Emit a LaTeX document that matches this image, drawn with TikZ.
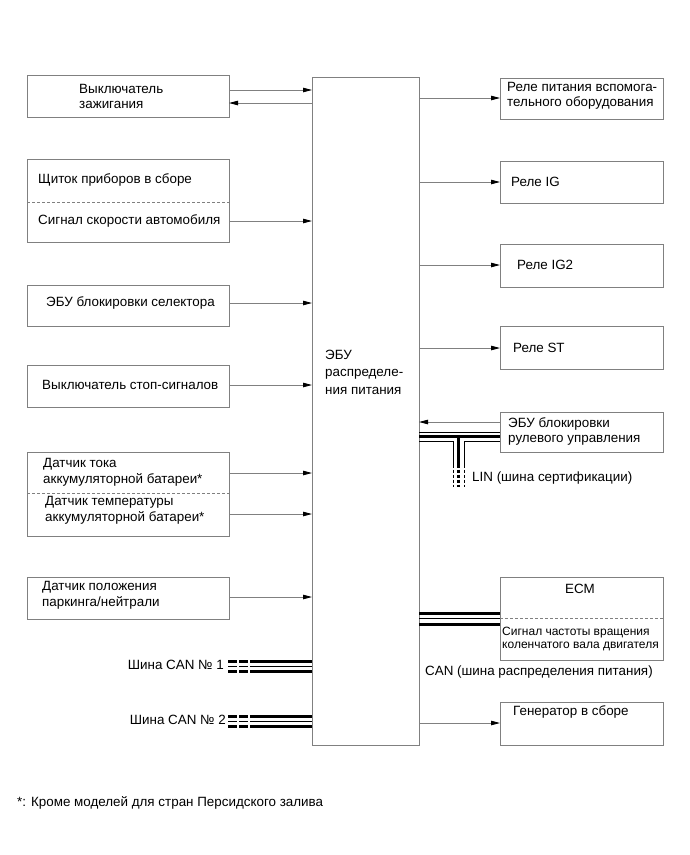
\documentclass[tikz,border=0pt]{standalone}
\usepackage{fontspec}
\setmainfont{Liberation Sans}
\usetikzlibrary{arrows.meta}
\definecolor{lg}{gray}{0.5}
\begin{document}
\begin{tikzpicture}[x=1pt,y=-1pt,
  box/.style={draw=lg, line width=0.9pt, rectangle, inner sep=0pt, outer sep=0pt, anchor=north west},
  txt/.style={anchor=west, inner sep=0pt, align=left, font=\fontsize{13.4}{16}\selectfont},
  smalltxt/.style={anchor=west, inner sep=0pt, align=left, font=\fontsize{12}{13.5}\selectfont},
  arr/.style={draw=lg, line width=0.9pt, -{Triangle[length=9pt,width=4.5pt,color=black]}},
  sep/.style={draw=lg, line width=0.6pt, dash pattern=on 3pt off 2pt},
  busA/.style={line width=3pt, black},
  busB/.style={line width=0.9pt, black},
  busAd/.style={line width=3pt, black, dash pattern=on 9pt off 2pt},
  busBd/.style={line width=0.9pt, black, dash pattern=on 9pt off 2pt},
  vbusA/.style={line width=3pt, black, dash pattern=on 3pt off 2pt},
  vbusB/.style={line width=0.9pt, black, dash pattern=on 3pt off 2pt}]
\useasboundingbox[fill=white] (0,0) rectangle (690,855);

% central ECU
\node[box, minimum width=107pt, minimum height=668pt] (ecu) at (312,77) {};
\node[txt, font=\fontsize{13.4}{17.5}\selectfont] (ecut) at (325,372) {ЭБУ\\распределе-\\ния питания};

% left boxes
\node[box, minimum width=202pt, minimum height=42pt] (b1) at (27,75) {};
\node[box, minimum width=202pt, minimum height=83pt] (b2) at (27,159) {};
\node[box, minimum width=202pt, minimum height=41pt] (b3) at (27,285) {};
\node[box, minimum width=202pt, minimum height=42pt] (b4) at (27,365) {};
\node[box, minimum width=202pt, minimum height=84pt] (b5) at (27,452) {};
\node[box, minimum width=202pt, minimum height=42pt] (b6) at (27,577) {};

\node[txt, font=\fontsize{13.4}{15}\selectfont] (t1) at (79,96) {Выключатель\\зажигания};
\node[txt] (t2a) at (38,180) {Щиток приборов в сборе};
\node[txt] (t2b) at (38,221) {Сигнал скорости автомобиля};
\node[txt] (t3) at (46,303) {ЭБУ блокировки селектора};
\node[txt] (t4) at (42,385) {Выключатель стоп-сигналов};
\node[txt] (t5a) at (43,472) {Датчик тока\\аккумуляторной батареи*};
\node[txt] (t5b) at (45,510) {Датчик температуры\\аккумуляторной батареи*};
\node[txt] (t6) at (42,595) {Датчик положения\\паркинга/нейтрали};

\draw[sep] (b2.west |- 0,202) -- (b2.east |- 0,202);
\draw[sep] (b5.west |- 0,493) -- (b5.east |- 0,493);

% left arrows
\draw[arr] (b1.east |- 0,90) -- (ecu.west |- 0,90);
\draw[arr] (ecu.west |- 0,103) -- (b1.east |- 0,103);
\draw[arr] (b2.east |- 0,221) -- (ecu.west |- 0,221);
\draw[arr] (b3.east |- 0,303) -- (ecu.west |- 0,303);
\draw[arr] (b4.east |- 0,385) -- (ecu.west |- 0,385);
\draw[arr] (b5.east |- 0,473) -- (ecu.west |- 0,473);
\draw[arr] (b5.east |- 0,514) -- (ecu.west |- 0,514);
\draw[arr] (b6.east |- 0,597) -- (ecu.west |- 0,597);

% right boxes
\node[box, minimum width=163pt, minimum height=41pt] (r1) at (500,78) {};
\node[box, minimum width=163pt, minimum height=42pt] (r2) at (500,161) {};
\node[box, minimum width=163pt, minimum height=43pt] (r3) at (500,244) {};
\node[box, minimum width=163pt, minimum height=43pt] (r4) at (500,326) {};
\node[box, minimum width=163pt, minimum height=40pt] (r5) at (500,412) {};
\node[box, minimum width=163pt, minimum height=83pt] (ecm) at (500,577) {};
\node[box, minimum width=163pt, minimum height=43pt] (gen) at (500,702) {};

\node[txt, font=\fontsize{13.4}{15}\selectfont] (rt1) at (507,96) {Реле питания вспомога-\\тельного оборудования};
\node[txt] (rt2) at (511,182) {Реле IG};
\node[txt] (rt3) at (517,265) {Реле IG2};
\node[txt] (rt4) at (513,348) {Реле ST};
\node[txt, font=\fontsize{13.4}{15}\selectfont] (rt5) at (508,431) {ЭБУ блокировки\\рулевого управления};
\node[txt, anchor=center] (ecmt) at (580,589) {ECM};
\node[smalltxt] (ecms) at (502,639) {Сигнал частоты вращения\\коленчатого вала двигателя};
\draw[sep] (ecm.west |- 0,618) -- (ecm.east |- 0,618);
\node[txt] (gent) at (513,712) {Генератор в сборе};

% right arrows
\draw[arr] (ecu.east |- 0,98) -- (r1.west |- 0,98);
\draw[arr] (ecu.east |- 0,182) -- (r2.west |- 0,182);
\draw[arr] (ecu.east |- 0,265) -- (r3.west |- 0,265);
\draw[arr] (ecu.east |- 0,348) -- (r4.west |- 0,348);
\draw[arr] (r5.west |- 0,422) -- (ecu.east |- 0,422);
\draw[arr] (ecu.east |- 0,723) -- (gen.west |- 0,723);

% LIN bus
\draw[busB] (ecu.east |- 0,432) -- (r5.west |- 0,432);
\draw[busA] (ecu.east |- 0,436.5) -- (r5.west |- 0,436.5);
\draw[busB] (ecu.east |- 0,441) -- (453,441) -- (453,468);
\draw[busB] (r5.west |- 0,441) -- (464,441) -- (464,468);
\draw[busA] (458.3,436.5) -- (458.3,468);
\coordinate (linend) at (458.3,487);
\draw[vbusA] (458.3,469.5) -- (linend);
\draw[vbusB] (453,469.5) -- (453,487);
\draw[vbusB] (464,469.5) -- (464,487);
\node[txt] (lint) at (472,478) {LIN (шина сертификации)};

% CAN to ECM
\draw[busA] (ecu.east |- 0,613) -- (ecm.west |- 0,613);
\draw[busB] (ecu.east |- 0,618.5) -- (ecm.west |- 0,618.5);
\draw[busA] (ecu.east |- 0,624) -- (ecm.west |- 0,624);
\node[txt] (cant) at (425,672) {CAN (шина распределения питания)};

% CAN 1
\coordinate (can1) at (228,666);
\draw[busAd] (228,661) -- (251,661);
\draw[busBd] (228,666) -- (251,666);
\draw[busAd] (228,671.5) -- (251,671.5);
\draw[busA] (251,661) -- (ecu.west |- 0,661);
\draw[busB] (251,666) -- (ecu.west |- 0,666);
\draw[busA] (251,671.5) -- (ecu.west |- 0,671.5);
\node[txt, anchor=east] (can1t) at (224,665) {Шина CAN № 1};

% CAN 2
\coordinate (can2) at (228,721);
\draw[busAd] (228,716) -- (251,716);
\draw[busBd] (228,721) -- (251,721);
\draw[busAd] (228,726.5) -- (251,726.5);
\draw[busA] (251,716) -- (ecu.west |- 0,716);
\draw[busB] (251,721) -- (ecu.west |- 0,721);
\draw[busA] (251,726.5) -- (ecu.west |- 0,726.5);
\node[txt, anchor=east] (can2t) at (226,720) {Шина CAN № 2};

% footnote
\node[txt] (fn) at (17,803) {*: Кроме моделей для стран Персидского залива};
\end{tikzpicture}
\end{document}
